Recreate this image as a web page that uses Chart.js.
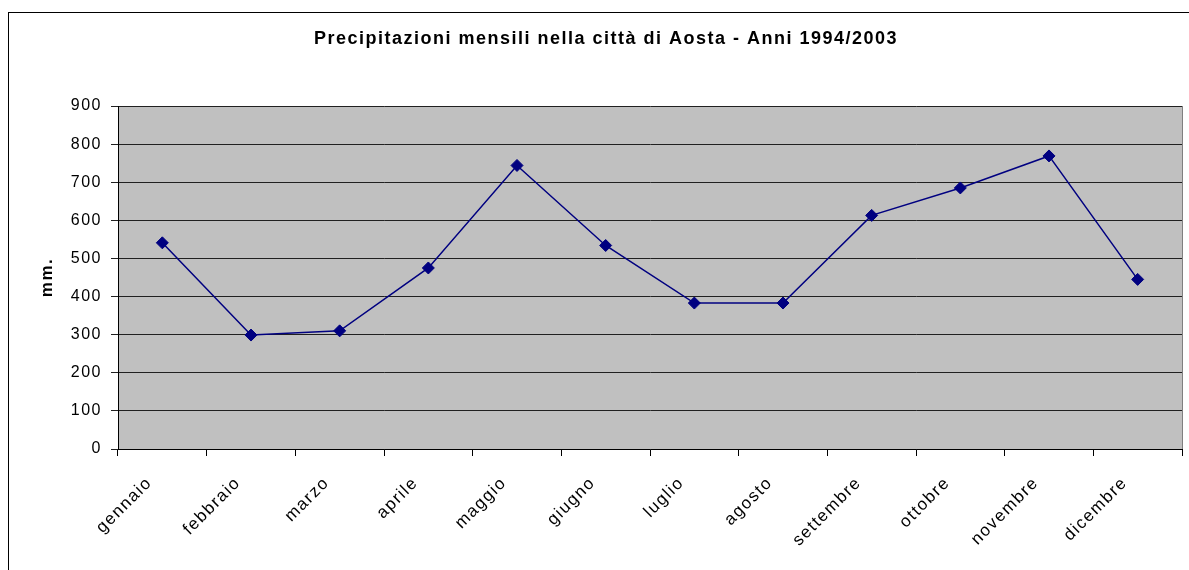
<!DOCTYPE html>
<html>
<head>
<meta charset="utf-8">
<script src="https://cdn.jsdelivr.net/npm/chart.js@4"></script>
<style>
  html, body { margin: 0; padding: 0; background: #fff; }
  #wrap { position: relative; width: 1189px; height: 570px; }
</style>
</head>
<body>
<div id="wrap"><canvas id="chart" width="1189" height="570"></canvas></div>
<script>
// Monthly rainfall in Aosta, 1994-2003
const MONTHS = ["gennaio", "febbraio", "marzo", "aprile", "maggio", "giugno",
  "luglio", "agosto", "settembre", "ottobre", "novembre", "dicembre"];
const RAIN_MM = [541, 299, 310, 475, 744, 534, 383, 383, 613, 685, 769, 445];
const Y_MIN = 0;
const Y_MAX = 900;
const Y_STEP = 100;
const TITLE = "Precipitazioni mensili nella città di Aosta - Anni 1994/2003";

const FONT = "'Liberation Sans', Arial, Helvetica, sans-serif";
const NAVY = "#000080";
const SPACING = "1.5px"; // the original's text is stretched sideways a little

Chart.defaults.font.family = FONT;
Chart.defaults.color = "#000";
Chart.defaults.animation = false;

// grey plot area, outer chart frame and the title, like the Excel original
// (the frame's right edge sits past the picture, so the title is centred at 605)
const frame = {
  id: "frame",
  beforeLayout(chart) {
    chart.ctx.letterSpacing = SPACING;
  },
  beforeDraw(chart) {
    const { ctx, chartArea: a } = chart;
    ctx.letterSpacing = SPACING;
    ctx.save();
    ctx.fillStyle = "#fff";
    ctx.fillRect(0, 0, chart.width, chart.height);
    ctx.strokeStyle = "#000";
    ctx.lineWidth = 1;
    ctx.strokeRect(8.5, 12.5, chart.width, chart.height);
    ctx.fillStyle = "#c0c0c0";
    ctx.fillRect(a.left, a.top, a.right - a.left, a.bottom - a.top);
    ctx.fillStyle = "#000";
    ctx.font = "bold 18px " + FONT;
    ctx.textAlign = "center";
    ctx.textBaseline = "alphabetic";
    ctx.fillText(TITLE, 606, 44);
    ctx.restore();
  },
  beforeDatasetsDraw(chart) {
    const { ctx, chartArea: a } = chart;
    ctx.save();
    ctx.strokeStyle = "#808080";
    ctx.lineWidth = 1;
    ctx.beginPath();
    ctx.moveTo(Math.round(a.right) + 0.5, a.top);
    ctx.lineTo(Math.round(a.right) + 0.5, a.bottom);
    ctx.stroke();
    ctx.restore();
  },
};

new Chart(document.getElementById("chart"), {
  type: "line",
  data: {
    labels: MONTHS,
    datasets: [{
      data: RAIN_MM,
      borderColor: NAVY,
      borderWidth: 1.5,
      backgroundColor: NAVY,
      pointStyle: "rectRot",
      pointRadius: 6,
      pointBorderWidth: 1,
      pointBorderColor: NAVY,
      pointBackgroundColor: NAVY,
      tension: 0,
    }],
  },
  options: {
    responsive: false,
    layout: { padding: { left: 8, right: 6, top: 106, bottom: 0 } },
    plugins: {
      legend: { display: false },
      tooltip: { enabled: false },
      title: { display: false },
    },
    scales: {
      x: {
        offset: true,
        grid: { offset: true, drawOnChartArea: false, drawTicks: true, tickLength: 7, color: "#000" },
        border: { color: "#000", width: 1 },
        ticks: { maxRotation: 45, minRotation: 45, autoSkip: false, padding: 17, labelOffset: -13, font: { size: 17 } },
        afterFit: (s) => { s.height = 121; },
      },
      y: {
        min: Y_MIN,
        max: Y_MAX,
        grid: { color: "#202020", lineWidth: 1, tickLength: 7, drawTicks: true },
        border: { color: "#000", width: 1 },
        ticks: { stepSize: Y_STEP, padding: 9, font: { size: 16 } },
        title: {
          display: true,
          text: "mm.",
          font: { family: FONT, size: 17, weight: "bold" },
          padding: { top: 29, bottom: 0 },
        },
        afterFit: (s) => { s.width = 110; },
      },
    },
  },
  plugins: [frame],
});
</script>
</body>
</html>
